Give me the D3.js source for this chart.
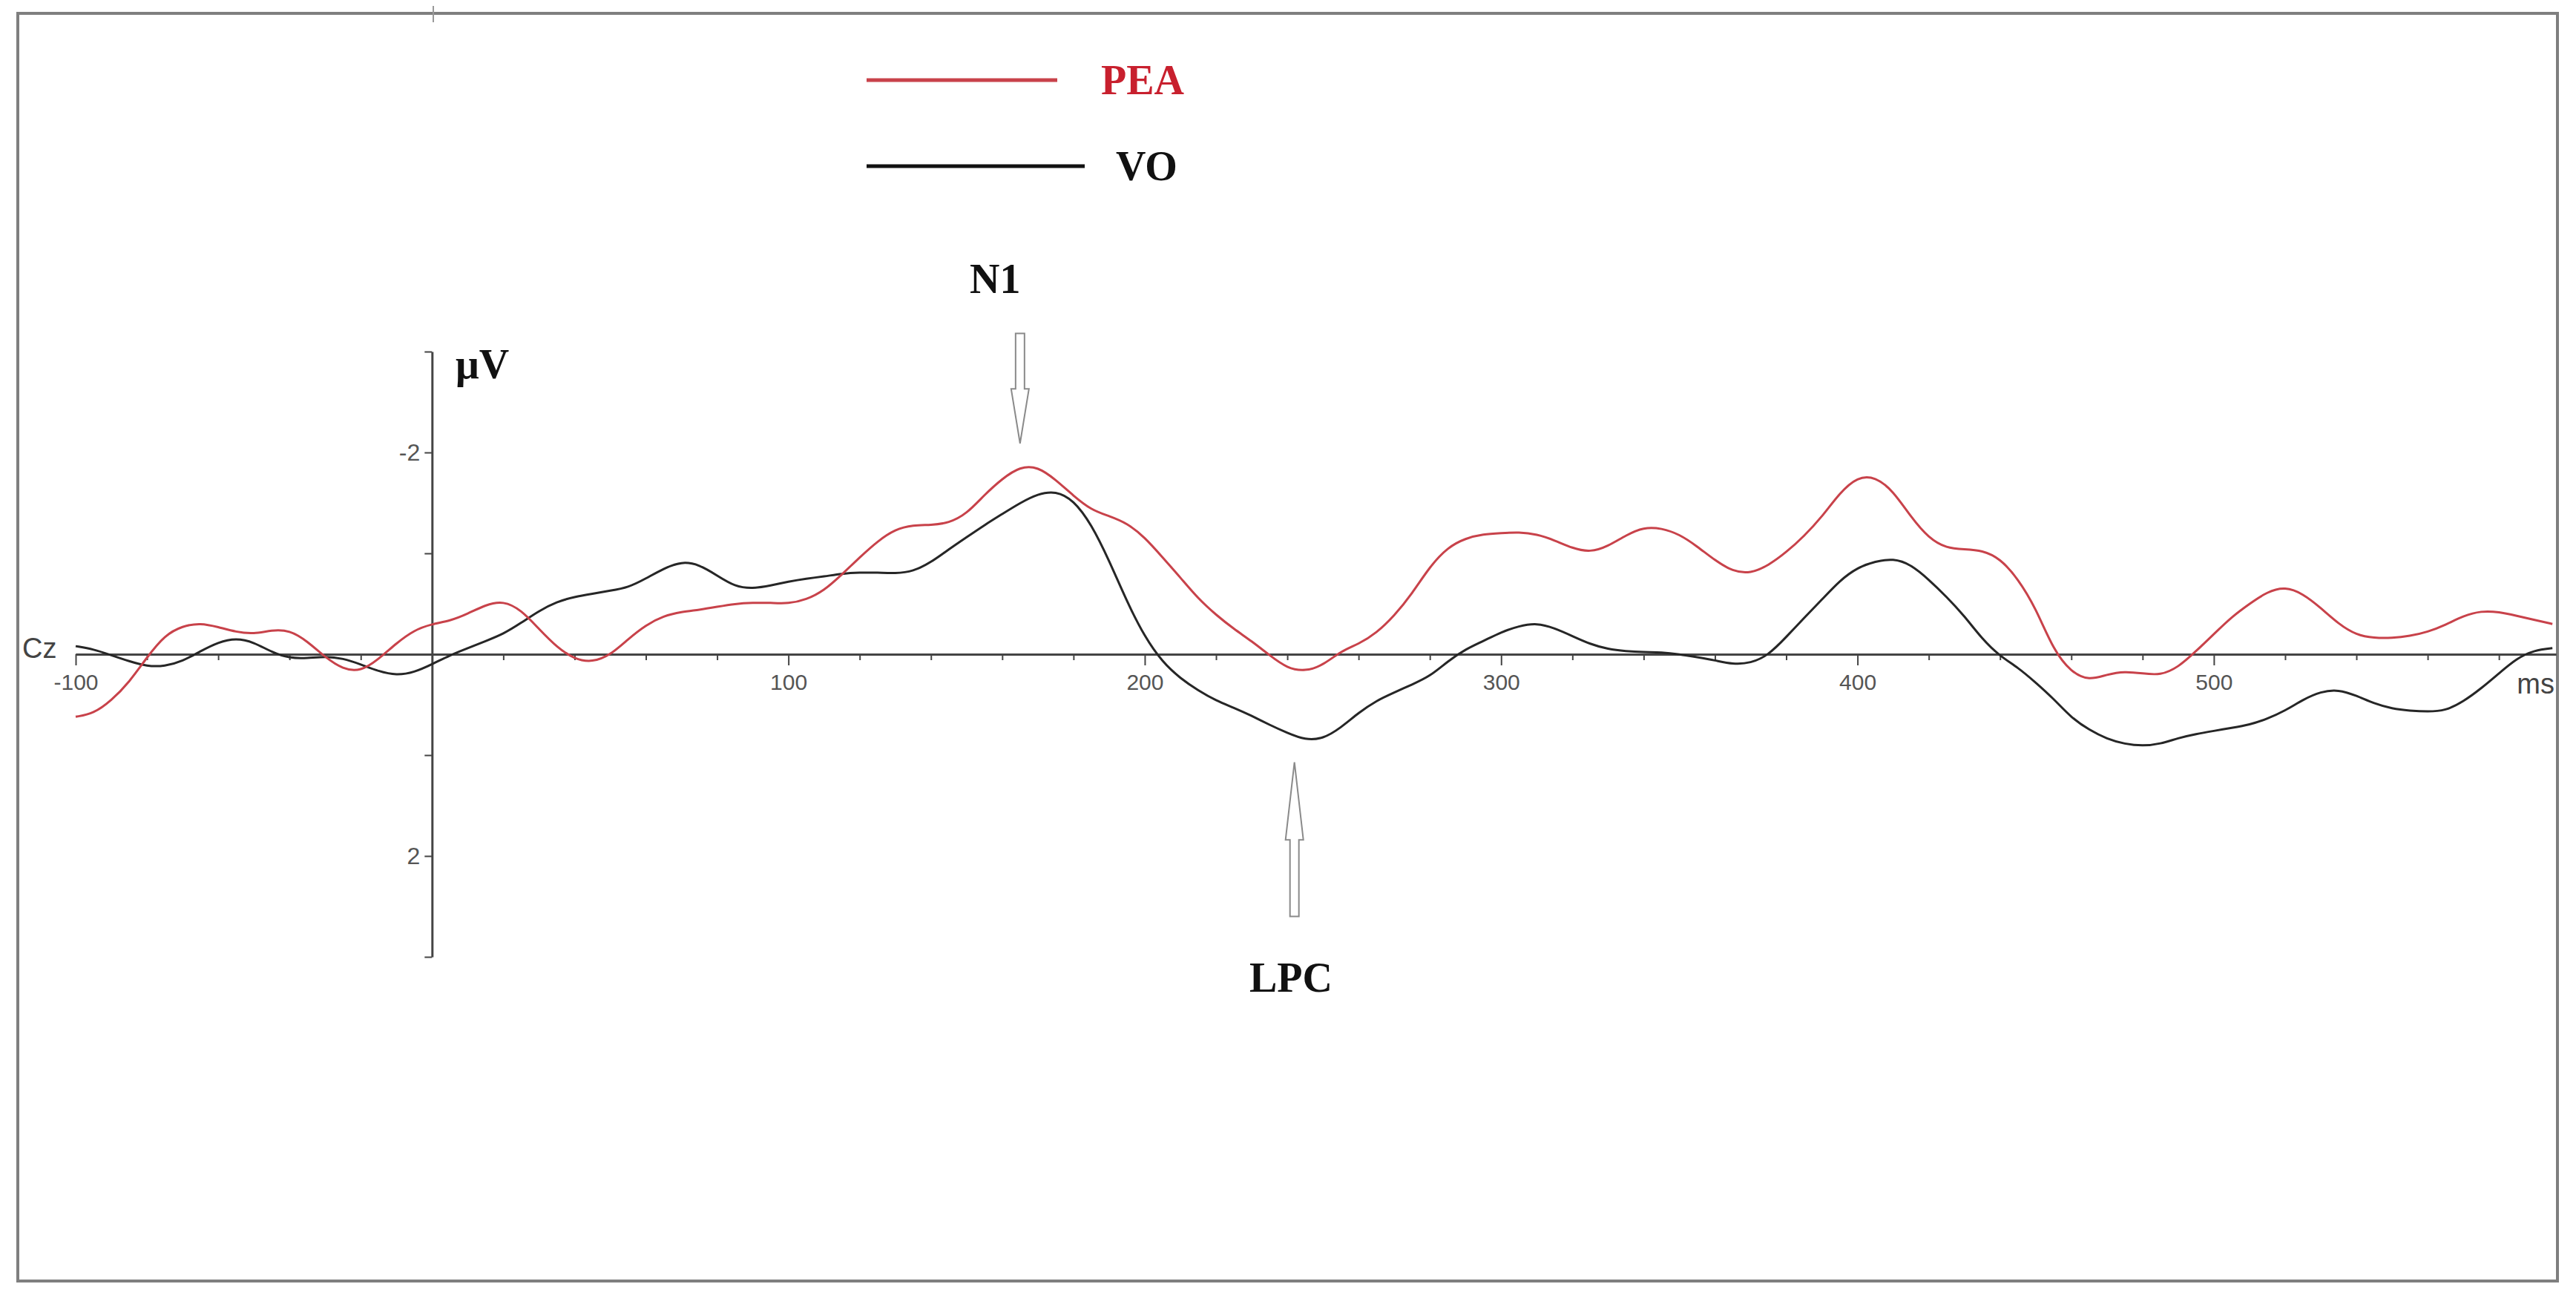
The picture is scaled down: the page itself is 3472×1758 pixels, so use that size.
<!DOCTYPE html>
<html>
<head>
<meta charset="utf-8">
<script src="https://cdn.jsdelivr.net/npm/d3@7"></script>
<style>
  body { margin: 0; background: #fff; }
  svg { display: block; }
</style>
</head>
<body>
<div id="chart"></div>
<script>
// time grid (ms), 5 ms steps from -100 to 595
const times = d3.range(-100, 600, 5);

// PEA (red) amplitude in microvolts, negative up
const peaValues = [
  0.62, 0.59, 0.46, 0.28, 0.03, -0.19, -0.28, -0.31, -0.27, -0.22,
  -0.20, -0.24, -0.24, -0.13, 0.03, 0.15, 0.17, 0.05, -0.11, -0.24,
  -0.30, -0.33, -0.40, -0.49, -0.53, -0.44, -0.25, -0.07, 0.05, 0.08,
  0.01, -0.15, -0.29, -0.38, -0.42, -0.44, -0.47, -0.50, -0.51, -0.51,
  -0.50, -0.54, -0.63, -0.79, -0.96, -1.12, -1.24, -1.28, -1.28, -1.30,
  -1.39, -1.58, -1.74, -1.86, -1.86, -1.73, -1.57, -1.43, -1.37, -1.30,
  -1.16, -0.96, -0.76, -0.55, -0.39, -0.25, -0.13, 0.01, 0.14, 0.17,
  0.11, -0.03, -0.10, -0.21, -0.38, -0.60, -0.87, -1.06, -1.15, -1.19,
  -1.20, -1.21, -1.19, -1.13, -1.05, -1.01, -1.07, -1.18, -1.26, -1.25,
  -1.19, -1.07, -0.93, -0.82, -0.80, -0.88, -1.01, -1.17, -1.36, -1.60,
  -1.76, -1.76, -1.62, -1.36, -1.15, -1.05, -1.04, -1.03, -0.95, -0.75,
  -0.46, -0.04, 0.18, 0.26, 0.20, 0.17, 0.19, 0.21, 0.13, -0.03,
  -0.20, -0.37, -0.50, -0.62, -0.67, -0.60, -0.46, -0.30, -0.19, -0.16,
  -0.16, -0.18, -0.22, -0.29, -0.38, -0.43, -0.42, -0.38, -0.34, -0.30
];

// VO (black) amplitude in microvolts
const voValues = [
  -0.08, -0.05, 0.01, 0.07, 0.12, 0.12, 0.07, -0.03, -0.12, -0.16,
  -0.12, -0.02, 0.04, 0.04, 0.02, 0.04, 0.10, 0.17, 0.21, 0.18,
  0.10, 0.01, -0.06, -0.13, -0.20, -0.31, -0.43, -0.52, -0.57, -0.60,
  -0.63, -0.66, -0.75, -0.85, -0.92, -0.89, -0.78, -0.67, -0.65, -0.68,
  -0.72, -0.75, -0.77, -0.80, -0.81, -0.81, -0.80, -0.82, -0.91, -1.04,
  -1.16, -1.28, -1.39, -1.50, -1.59, -1.62, -1.53, -1.29, -0.93, -0.52,
  -0.17, 0.08, 0.24, 0.36, 0.46, 0.53, 0.61, 0.70, 0.78, 0.85,
  0.84, 0.73, 0.58, 0.46, 0.38, 0.30, 0.22, 0.07, -0.05, -0.13,
  -0.22, -0.28, -0.31, -0.26, -0.18, -0.10, -0.05, -0.03, -0.02, -0.02,
  0.00, 0.03, 0.06, 0.10, 0.09, 0.01, -0.17, -0.36, -0.54, -0.73,
  -0.86, -0.92, -0.95, -0.89, -0.74, -0.57, -0.38, -0.15, 0.02, 0.13,
  0.28, 0.44, 0.63, 0.75, 0.84, 0.89, 0.91, 0.89, 0.83, 0.79,
  0.76, 0.73, 0.70, 0.64, 0.56, 0.45, 0.37, 0.35, 0.41, 0.49,
  0.54, 0.56, 0.57, 0.56, 0.47, 0.34, 0.19, 0.04, -0.04, -0.06
];

const xMajorTicks = [-100, 100, 200, 300, 400, 500];
const xMinorTicks = d3.range(-80, 600, 20).filter(d => d % 100 !== 0);
const yTicks = [-3, -2, -1, 1, 2, 3];
const yLabelled = [-2, 2];

const W = 3472, H = 1758;
const red = "#c8424a";

const svg = d3.select("#chart").append("svg")
  .attr("width", W)
  .attr("height", H);

svg.append("rect")
  .attr("width", W).attr("height", H)
  .attr("fill", "#fff");

// outer frame
svg.append("rect")
  .attr("x", 24).attr("y", 18)
  .attr("width", 3423).attr("height", 1709)
  .attr("fill", "none")
  .attr("stroke", "#7f7f7f")
  .attr("stroke-width", 4);
svg.append("line")
  .attr("x1", 584).attr("x2", 584)
  .attr("y1", 8).attr("y2", 30)
  .attr("stroke", "#999").attr("stroke-width", 2);

const x = d3.scaleLinear().domain([-100, 596]).range([102, 3445]);
const y = d3.scaleLinear().domain([-3, 3]).range([474, 1290]);

const axisColor = "#444";
const sans = "'Liberation Sans', Arial, sans-serif";
const serif = "'Liberation Serif', 'Times New Roman', serif";
const plain = d => String(d);

// x axis: minor ticks
const xMinor = svg.append("g")
  .attr("transform", `translate(0, ${y(0)})`)
  .call(d3.axisBottom(x).tickValues(xMinorTicks).tickSize(8).tickSizeOuter(0).tickFormat(""));
// x axis: major ticks + labels
const xMajor = svg.append("g")
  .attr("transform", `translate(0, ${y(0)})`)
  .call(d3.axisBottom(x).tickValues(xMajorTicks).tickSize(15).tickSizeOuter(0).tickPadding(12).tickFormat(plain));

[xMinor, xMajor].forEach(g => {
  g.select(".domain").attr("stroke", axisColor).attr("stroke-width", 3);
  g.selectAll(".tick line").attr("stroke", axisColor).attr("stroke-width", 2);
});
xMajor.selectAll(".tick text")
  .attr("font-family", sans)
  .attr("font-size", 30)
  .attr("fill", "#555");

// y axis
const yAxis = svg.append("g")
  .attr("transform", `translate(${x(0)}, 0)`)
  .call(d3.axisLeft(y).tickValues(yTicks).tickSize(10).tickSizeOuter(0).tickPadding(6)
    .tickFormat(d => yLabelled.includes(d) ? plain(d) : ""));
yAxis.select(".domain").attr("stroke", axisColor).attr("stroke-width", 3);
yAxis.selectAll(".tick line").attr("stroke", axisColor).attr("stroke-width", 2);
yAxis.selectAll(".tick text")
  .attr("font-family", sans)
  .attr("font-size", 32)
  .attr("fill", "#555");

// axis captions
svg.append("text")
  .attr("x", 30).attr("y", 887)
  .attr("font-family", sans).attr("font-size", 38)
  .attr("fill", "#444")
  .text("Cz");
svg.append("text")
  .attr("x", 3443).attr("y", 935)
  .attr("text-anchor", "end")
  .attr("font-family", sans).attr("font-size", 38)
  .attr("fill", "#444")
  .text("ms");
svg.append("text")
  .attr("x", 614).attr("y", 510)
  .attr("font-family", serif).attr("font-size", 56).attr("font-weight", "bold")
  .attr("fill", "#111")
  .text("\u03bcV");

// waveforms
const line = d3.line()
  .x((d, i) => x(times[i]))
  .y(d => y(d))
  .curve(d3.curveBasis);

svg.append("path")
  .datum(voValues)
  .attr("fill", "none")
  .attr("stroke", "#262626")
  .attr("stroke-width", 3)
  .attr("d", line);

svg.append("path")
  .datum(peaValues)
  .attr("fill", "none")
  .attr("stroke", red)
  .attr("stroke-width", 3)
  .attr("d", line);

// legend
const legend = [
  { name: "PEA", color: red, text: "#c8202e", y: 108, x2: 1425, tx: 1484 },
  { name: "VO", color: "#111", text: "#111", y: 224, x2: 1462, tx: 1504 }
];
legend.forEach(l => {
  svg.append("line")
    .attr("x1", 1168).attr("x2", l.x2)
    .attr("y1", l.y).attr("y2", l.y)
    .attr("stroke", l.color).attr("stroke-width", 5);
  svg.append("text")
    .attr("x", l.tx).attr("y", l.y + 19)
    .attr("font-family", serif).attr("font-size", 56).attr("font-weight", "bold")
    .attr("fill", l.text)
    .text(l.name);
});

// hollow arrows marking components
function arrow(cx, yTail, yHeadBase, yTip) {
  const shaft = 6, head = 12;
  const p = d3.path();
  p.moveTo(cx - shaft, yTail);
  p.lineTo(cx + shaft, yTail);
  p.lineTo(cx + shaft, yHeadBase);
  p.lineTo(cx + head, yHeadBase);
  p.lineTo(cx, yTip);
  p.lineTo(cx - head, yHeadBase);
  p.lineTo(cx - shaft, yHeadBase);
  p.closePath();
  svg.append("path")
    .attr("d", p.toString())
    .attr("fill", "#fff")
    .attr("stroke", "#8a8a8a")
    .attr("stroke-width", 2);
}
arrow(x(165), y(-3.18), y(-2.63), y(-2.09));
arrow(x(242), y(2.60), y(1.84), y(1.07));

svg.append("text")
  .attr("x", x(158)).attr("y", 395)
  .attr("text-anchor", "middle")
  .attr("font-family", serif).attr("font-size", 56).attr("font-weight", "bold")
  .attr("fill", "#111")
  .text("N1");
svg.append("text")
  .attr("x", x(241)).attr("y", 1337)
  .attr("text-anchor", "middle")
  .attr("font-family", serif).attr("font-size", 56).attr("font-weight", "bold")
  .attr("fill", "#111")
  .text("LPC");
</script>
</body>
</html>
